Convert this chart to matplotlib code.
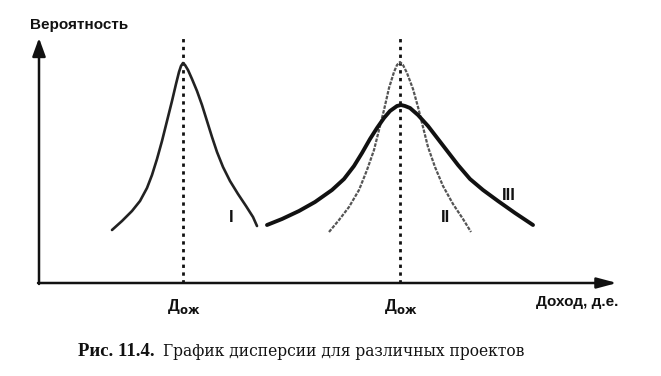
"""Рис. 11.4 — график дисперсии для различных проектов (схема)."""
import matplotlib
matplotlib.use("Agg")
import matplotlib.pyplot as plt

# --- DATA (origin = axes crossing) ---
# expected income of the two project groups
exp_income = [144, 361]

curve1_x = [73, 83, 93, 101, 108, 113, 118, 123, 128, 133, 137, 140, 142, 144,
            146, 149, 153, 158, 163, 168, 173, 178, 184, 191, 199, 207, 214, 218]
curve1_y = [53, 62, 72, 82, 95, 108, 124, 142, 162, 182, 199, 211, 217, 220,
            218, 213, 204, 192, 178, 162, 146, 131, 116, 102, 89, 77, 66, 57]

curve2_x = [290, 300, 310, 320, 328, 335, 340, 345, 350, 355, 358, 361,
            364, 368, 374, 379, 384, 389, 396, 404, 414, 424, 432]
curve2_y = [51, 63, 76, 93, 113, 133, 153, 173, 195, 211, 218, 221,
            218, 210, 194, 176, 156, 136, 116, 97, 79, 64, 51]

curve3_x = [228, 243, 260, 276, 293, 305, 315, 323, 331, 338, 345, 351, 358,
            362, 366, 371, 379, 389, 399, 409, 419, 431, 444, 459, 476, 494]
curve3_y = [58, 64, 72, 81, 93, 104, 117, 130, 144, 155, 165, 172, 177,
            178, 177, 175, 168, 157, 144, 131, 118, 104, 93, 82, 70, 58]

curve_labels = ["I", "II", "III"]
label_pos = [(192, 65), (407, 65), (470, 88)]

INK = "#111111"

fig = plt.figure(figsize=(6.61, 3.76), dpi=100)
ax = fig.add_axes([0, 0, 1, 1])
ax.set_xlim(-39, 622)
ax.set_ylim(-93, 283)
ax.axis("off")

# axes with arrows
ax.annotate("", xy=(0, 245), xytext=(0, -1),
            arrowprops=dict(arrowstyle="-|>,head_length=1.1,head_width=0.4",
                            color=INK, lw=1.8, shrinkA=0, shrinkB=0))
ax.annotate("", xy=(578, 0), xytext=(-1, 0),
            arrowprops=dict(arrowstyle="-|>,head_length=1.2,head_width=0.32",
                            color=INK, lw=1.8, shrinkA=0, shrinkB=0))

# expected-income guides
for xe in exp_income:
    ax.plot([xe, xe], [0, 248], color=INK, lw=2.0, linestyle=(0, (1.2, 1.6)),
            solid_capstyle="butt")

# distributions
ax.plot(curve1_x, curve1_y, color="#222222", lw=1.9, solid_joinstyle="round",
        solid_capstyle="round")
ax.plot(curve2_x, curve2_y, color="#555555", lw=1.6, linestyle=(0, (1.6, 0.6)),
        dash_joinstyle="round")
ax.plot(curve3_x, curve3_y, color=INK, lw=2.8, solid_joinstyle="round",
        solid_capstyle="round")

for lab, (lx, ly) in zip(curve_labels, label_pos):
    ax.text(lx, ly, lab, ha="center", va="center", fontsize=12,
            fontweight="bold", family="Liberation Sans", color=INK)

# texts
ax.text(-9, 258, "Вероятность", ha="left", va="center", fontsize=11,
        fontweight="bold", family="Liberation Sans", color=INK)
ax.text(538, -19, "Доход, д.е.", ha="center", va="center", fontsize=11,
        fontweight="bold", family="Liberation Sans", color=INK)
for xe in exp_income:
    ax.text(xe + 1, -23, r"Д$_{\mathbf{ож}}$", ha="center", va="center",
            fontsize=12, fontweight="bold", family="Liberation Sans", color=INK)

ax.text(39, -68, "Рис. 11.4.", ha="left", va="center", fontsize=13.5,
        fontweight="bold", family="Liberation Serif", color=INK)
ax.text(124, -68, "График дисперсии для различных проектов", ha="left",
        va="center", fontsize=11.2, family="DejaVu Serif", color=INK)

fig.savefig("out.png", dpi=100)
